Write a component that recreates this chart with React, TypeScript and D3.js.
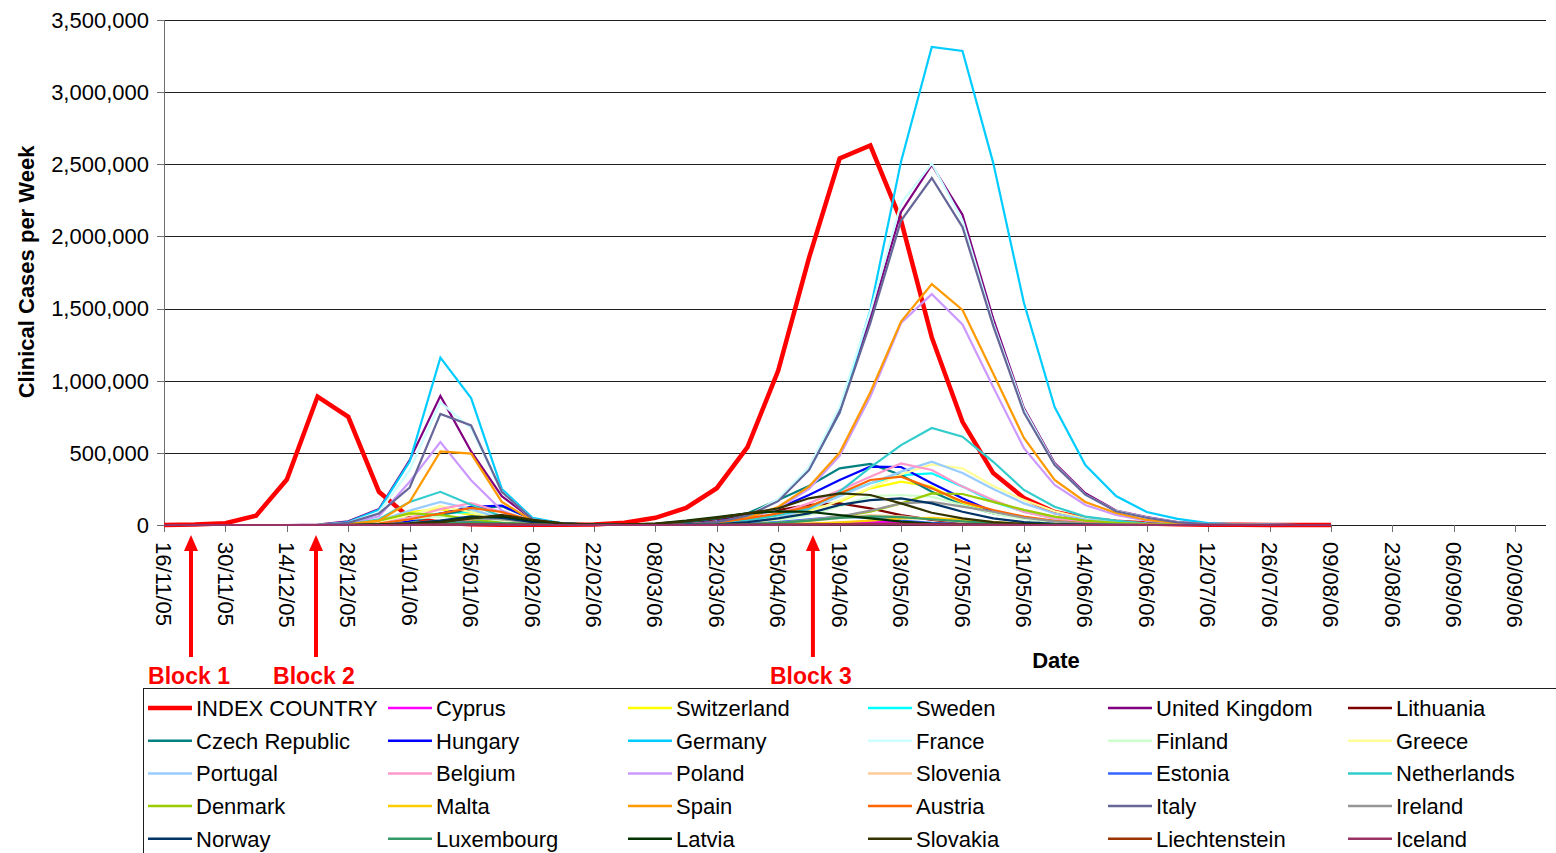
import React from "react";
import * as d3 from "d3";

// weekly categories (x axis), 16/11/05 .. 27/09/06
const WEEKS = [
  "16/11/05", "23/11/05", "30/11/05", "07/12/05", "14/12/05", "21/12/05", "28/12/05",
  "04/01/06", "11/01/06", "18/01/06", "25/01/06", "01/02/06", "08/02/06", "15/02/06",
  "22/02/06", "01/03/06", "08/03/06", "15/03/06", "22/03/06", "29/03/06", "05/04/06",
  "12/04/06", "19/04/06", "26/04/06", "03/05/06", "10/05/06", "17/05/06", "24/05/06",
  "31/05/06", "07/06/06", "14/06/06", "21/06/06", "28/06/06", "05/07/06", "12/07/06",
  "19/07/06", "26/07/06", "02/08/06", "09/08/06", "16/08/06", "23/08/06", "30/08/06",
  "06/09/06", "13/09/06", "20/09/06", "27/09/06",
];

const Y_TICKS = [0, 500, 1000, 1500, 2000, 2500, 3000, 3500]; // thousands

// clinical cases per week, thousands, from 16/11/05 to 09/08/06
const COUNTRIES = [
  "INDEX COUNTRY", "Cyprus", "Switzerland", "Sweden", "United Kingdom", "Lithuania",
  "Czech Republic", "Hungary", "Germany", "France", "Finland", "Greece",
  "Portugal", "Belgium", "Poland", "Slovenia", "Estonia", "Netherlands",
  "Denmark", "Malta", "Spain", "Austria", "Italy", "Ireland",
  "Norway", "Luxembourg", "Latvia", "Slovakia", "Liechtenstein", "Iceland",
];

const COLORS = [
  "#FF0000", "#FF00FF", "#FFFF00", "#00FFFF", "#800080", "#800000",
  "#008080", "#0000FF", "#00CCFF", "#CCFFFF", "#CCFFCC", "#FFFF99",
  "#99CCFF", "#FF99CC", "#CC99FF", "#FFCC99", "#3366FF", "#33CCCC",
  "#99CC00", "#FFCC00", "#FF9900", "#FF6600", "#666699", "#969696",
  "#003366", "#339966", "#003300", "#333300", "#993300", "#993366",
];

const VALUES: number[][] = [
  // INDEX COUNTRY
  [0,3,12,65,315,890,750,230,50,15, 5,2,1,1,3,15,50,118,255,540, 1070,1850,2540,2630,2110,1300,715,360,187,90, 45,22,10,5,2,1,0,0,0],
  // Cyprus
  [0,0,0,0,0,0,0,0,2,5, 8,5,2,0,0,0,0,0,0,2, 4,8,15,23,20,12,5,2,0,0, 0,0,0,0,0,0,0,0,0],
  // Switzerland
  [0,0,0,0,0,0,5,30,90,110, 70,30,10,3,0,0,0,2,8,20, 50,104,162,254,300,266,150,90,50,25, 10,4,2,0,0,0,0,0,0],
  // Sweden
  [0,0,0,0,0,0,3,15,50,80, 90,50,15,4,0,0,0,2,8,30, 70,127,208,289,346,358,266,162,92,45, 20,8,3,1,0,0,0,0,0],
  // United Kingdom
  [0,0,0,0,0,2,25,110,450,895, 510,200,40,8,2,0,0,5,20,70, 173,395,800,1440,2170,2495,2150,1430,810,430, 220,100,55,20,8,3,1,0,0],
  // Lithuania
  [0,0,0,0,0,0,0,2,5,15, 30,25,10,3,0,0,5,15,40,69, 104,139,150,115,69,35,15,5,2,0, 0,0,0,0,0,0,0,0,0],
  // Czech Republic
  [0,0,0,0,0,0,2,8,25,70, 110,130,40,10,2,0,5,20,46,81, 173,270,393,423,346,231,139,81,46,20, 8,3,1,0,0,0,0,0,0],
  // Hungary
  [0,0,0,0,0,0,2,8,30,80, 125,135,40,10,2,0,0,5,23,58, 115,208,312,404,402,289,185,92,45,20, 8,3,1,0,0,0,0,0,0],
  // Germany
  [0,0,0,0,0,0,20,105,440,1160, 880,250,50,10,2,0,0,3,12,60, 175,380,780,1490,2520,3313,3285,2510,1540,818, 416,201,90,42,14,5,2,0,0],
  // France
  [0,0,0,0,0,1,15,90,380,850, 670,230,40,8,2,0,0,4,16,62, 180,400,820,1480,2230,2505,2110,1400,800,420, 210,98,52,19,7,2,1,0,0],
  // Finland
  [0,0,0,0,0,0,2,10,40,60, 50,25,8,2,0,0,0,2,5,10, 30,70,130,200,208,196,139,80,40,20, 8,3,1,0,0,0,0,0,0],
  // Greece
  [0,0,0,0,0,0,3,20,70,130, 90,40,12,3,0,0,0,0,5,15, 40,90,170,260,350,420,393,270,173,95, 45,20,8,3,1,0,0,0,0],
  // Portugal
  [0,0,0,0,0,0,5,30,100,160, 110,45,12,3,0,0,0,0,5,20, 50,110,200,290,370,439,360,250,150,80, 40,18,7,2,0,0,0,0,0],
  // Belgium
  [0,0,0,0,0,0,2,10,50,110, 152,90,20,5,0,0,0,3,10,35, 80,150,240,335,427,381,266,173,90,45, 20,8,3,1,0,0,0,0,0],
  // Poland
  [0,0,0,0,0,1,10,60,300,575, 310,100,20,5,1,0,0,3,12,45, 115,250,480,890,1400,1600,1390,956,533,277, 139,69,30,12,4,1,0,0,0],
  // Slovenia
  [0,0,0,0,0,0,0,3,10,20, 25,15,5,1,0,0,0,0,2,5, 10,25,50,69,60,40,20,8,3,0, 0,0,0,0,0,0,0,0,0],
  // Estonia
  [0,0,0,0,0,0,0,2,8,15, 20,12,4,1,0,0,0,2,4,8, 20,40,58,50,30,15,6,2,0,0, 0,0,0,0,0,0,0,0,0],
  // Netherlands
  [0,0,0,0,0,0,5,40,160,230, 140,60,15,4,1,0,0,3,15,35, 69,115,231,400,554,672,612,438,243,127, 58,30,12,5,2,0,0,0,0],
  // Denmark
  [0,0,0,0,0,0,5,30,80,70, 40,15,4,1,0,0,0,0,2,5, 15,30,58,92,150,219,215,160,105,58, 30,15,6,2,0,0,0,0,0],
  // Malta
  [0,0,0,0,0,0,0,2,6,12, 15,10,4,1,0,0,0,0,0,2, 5,10,18,30,45,50,35,20,8,3, 1,0,0,0,0,0,0,0,0],
  // Spain
  [0,0,0,0,0,0,4,30,160,510, 495,160,30,6,1,0,0,5,15,50, 125,265,500,920,1410,1670,1490,1050,603,312, 160,83,35,15,5,2,0,0,0],
  // Austria
  [0,0,0,0,0,0,2,10,40,80, 118,90,30,8,2,0,0,5,20,45, 81,127,219,312,335,254,162,104,58,28, 12,5,2,0,0,0,0,0,0],
  // Italy
  [0,0,0,0,0,1,15,80,260,770, 690,230,40,8,2,0,0,5,20,65, 165,380,780,1400,2110,2405,2065,1380,780,415, 210,95,50,18,7,2,1,0,0],
  // Ireland
  [0,0,0,0,0,0,0,5,15,30, 45,40,15,4,1,0,0,0,2,5, 15,35,58,100,150,160,127,92,50,25, 10,4,1,0,0,0,0,0,0],
  // Norway
  [0,0,0,0,0,0,0,4,12,30, 60,50,20,5,1,0,0,2,5,20, 46,81,139,173,185,150,92,46,20,8, 3,1,0,0,0,0,0,0,0],
  // Luxembourg
  [0,0,0,0,0,0,0,2,6,12, 18,14,6,2,0,0,0,0,2,5, 15,30,50,60,55,40,25,12,5,2, 0,0,0,0,0,0,0,0,0],
  // Latvia
  [0,0,0,0,0,0,0,2,8,20, 50,60,30,10,3,2,10,30,55,80, 95,92,69,46,23,10,4,1,0,0, 0,0,0,0,0,0,0,0,0],
  // Slovakia
  [0,0,0,0,0,0,0,3,10,20, 45,70,35,12,4,3,10,25,50,81, 115,185,219,208,150,85,46,20,8,3, 1,0,0,0,0,0,0,0,0],
  // Liechtenstein
  [0,0,0,0,0,0,0,0,1,3, 5,4,2,0,0,0,0,0,1,2, 3,5,6,8,8,6,3,1,0,0, 0,0,0,0,0,0,0,0,0],
  // Iceland
  [0,0,0,0,0,0,0,0,1,2, 3,2,1,0,0,0,0,0,0,1, 2,3,4,5,4,3,2,1,0,0, 0,0,0,0,0,0,0,0,0],
];

// annotation arrows: label and position in weeks from the first category
const BLOCKS = ["Block 1", "Block 2", "Block 3"];
const BLOCK_WEEK = [0.88, 4.95, 21.13];

const FONT = "'Liberation Sans', Arial, Helvetica, sans-serif";

export default function App() {
  const W = 1556;
  const H = 853;
  const left = 164, right = 1546, top = 20, bottom = 525;

  const x = d3.scalePoint<string>().domain(WEEKS).range([left, right]);
  const y = d3.scaleLinear().domain([0, 3500]).range([bottom, top]);
  const fmt = d3.format(",");

  const line = d3
    .line<number>()
    .x((_, i) => x(WEEKS[i]) as number)
    .y((d) => y(d));

  const xLabels = WEEKS.filter((_, i) => i % 2 === 0);
  const step = x.step();

  return (
    <svg
      width={W}
      height={H}
      style={{ position: "absolute", left: 0, top: 0, background: "#fff" }}
      fontFamily={FONT}
    >
      {/* gridlines */}
      {Y_TICKS.filter((t) => t > 0).map((t) => (
        <line key={"g" + t} x1={left} x2={right} y1={Math.round(y(t)) + 0.5} y2={Math.round(y(t)) + 0.5} stroke="#1e1e1e" strokeWidth={1} />
      ))}

      {/* y axis */}
      <line x1={left + 0.5} x2={left + 0.5} y1={top} y2={bottom} stroke="#6e6e6e" />
      {Y_TICKS.map((t) => (
        <g key={"yt" + t}>
          <line x1={left - 7} x2={left} y1={Math.round(y(t)) + 0.5} y2={Math.round(y(t)) + 0.5} stroke="#6e6e6e" />
          <text x={149} y={y(t)} dy="0.36em" textAnchor="end" fontSize={22} fill="#000">
            {fmt(t * 1000)}
          </text>
        </g>
      ))}

      {/* x axis */}
      <line x1={left} x2={right} y1={bottom + 0.5} y2={bottom + 0.5} stroke="#1e1e1e" />
      {xLabels.map((d) => (
        <g key={"xt" + d}>
          <line x1={Math.round(x(d) as number) + 0.5} x2={Math.round(x(d) as number) + 0.5} y1={bottom} y2={bottom + 7} stroke="#6e6e6e" />
          <text
            transform={`translate(${x(d)},${bottom + 17}) rotate(90)`}
            dy="0.36em"
            textAnchor="start"
            fontSize={22}
            fill="#000"
          >
            {d}
          </text>
        </g>
      ))}

      {/* series */}
      {VALUES.map((vals, k) => (
        <path
          key={"s" + k}
          d={line(vals) as string}
          fill="none"
          stroke={COLORS[k]}
          strokeWidth={k === 0 ? 4.5 : 2.2}
          strokeLinejoin="miter"
        />
      ))}

      {/* axis titles */}
      <text transform={`translate(34,272) rotate(-90)`} textAnchor="middle" fontSize={22} fontWeight="bold">
        Clinical Cases per Week
      </text>
      <text x={1056} y={668} textAnchor="middle" fontSize={22} fontWeight="bold">
        Date
      </text>

      {/* block arrows */}
      {BLOCKS.map((b, i) => {
        const px = left + BLOCK_WEEK[i] * step;
        return (
          <g key={b}>
            <line x1={px} x2={px} y1={657} y2={548} stroke="#FF0000" strokeWidth={4} />
            <path d={`M${px},535 L${px - 7},551 L${px + 7},551 Z`} fill="#FF0000" />
            <text x={px - 2} y={684} textAnchor="middle" fontSize={23} fontWeight="bold" fill="#FF0000">
              {b}
            </text>
          </g>
        );
      })}

      {/* legend */}
      <rect x={143.5} y={688.5} width={1500} height={300} fill="#fff" stroke="#1e1e1e" />
      {COUNTRIES.map((c, k) => {
        const col = k % 6;
        const row = Math.floor(k / 6);
        const lx = 148 + col * 240;
        const ly = 708 + row * 32.7;
        return (
          <g key={"l" + c}>
            <line x1={lx} x2={lx + 44} y1={ly} y2={ly} stroke={COLORS[k]} strokeWidth={k === 0 ? 4.5 : 2.5} />
            <text x={lx + 48} y={ly} dy="0.36em" fontSize={22} fill="#000">
              {c}
            </text>
          </g>
        );
      })}
    </svg>
  );
}
